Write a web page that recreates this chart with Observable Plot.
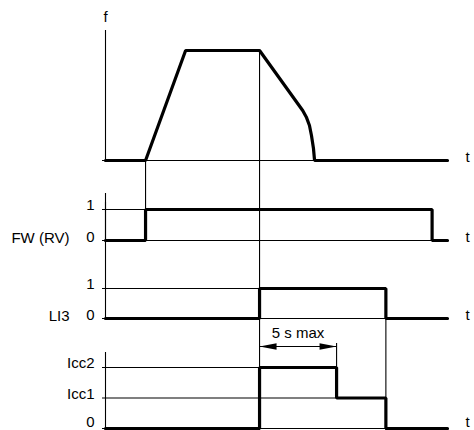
<!DOCTYPE html>
<html><head><meta charset="utf-8">
<script src="https://cdn.jsdelivr.net/npm/d3@7"></script>
<script src="https://cdn.jsdelivr.net/npm/@observablehq/plot@0.6"></script>
<style>body{margin:0;background:#fff}</style>
</head><body><div id="chart"></div>
<script>
// ---- data (time in s, signal values) ----
const tEnd = 22.2;
const fTime  = [0, 2.6, 5.2, 10, 12.8, 13.05, 13.24, 13.37, 13.5, 13.57, 22.2];
const fValue = [0, 0,   1,   1,  0.455, 0.39, 0.318, 0.227, 0.109, 0, 0];
const fwTime  = [0, 2.6, 21.2, 22.2];
const fwValue = [0, 1, 0, 0];
const li3Time  = [0, 10, 18.2, 22.2];
const li3Value = [0, 1, 0, 0];
const iccTime  = [0, 10, 15, 18.2, 22.2];
const iccValue = [0, 2, 1, 0, 0];
const binaryLevels = [0, 1];
const binaryLabels = ["0", "1"];
const iccLevels = [0, 1, 2];
const iccLabels = ["0", "Icc1", "Icc2"];
const signalNames = ["FW (RV)", "LI3"];
const axisNames = ["f", "t"];
const maxStart = 10, maxEnd = 15, maxLabel = "5 s max";

// ---- layout (pixels) ----
const L = {
  f:   {base: 160, unit: 110, top: 30, dy: -3},
  fw:  {base: 240, unit: 31,  top: 193, dy: -3},
  li3: {base: 318, unit: 30,  top: 202, dy: -3},
  icc: {base: 428, unit: 30.5, top: 352, dy: -6},
  arrowY: 346
};
const Y = (p, v) => L[p].base - v * L[p].unit;
const font = "Liberation Sans, Arial, sans-serif";
const fs = 15;

const panels = [
  {key: "f", time: fTime, value: fValue, curve: "linear", levels: [], labels: []},
  {key: "fw", time: fwTime, value: fwValue, curve: "step-after", levels: [1], labels: binaryLabels, lv: binaryLevels, name: signalNames[0]},
  {key: "li3", time: li3Time, value: li3Value, curve: "step-after", levels: [1], labels: binaryLabels, lv: binaryLevels, name: signalNames[1]},
  {key: "icc", time: iccTime, value: iccValue, curve: "step-after", levels: [2, 1], labels: iccLabels, lv: iccLevels}
];

const arrowHead = {draw(ctx) { ctx.moveTo(0, 0); ctx.lineTo(-17, -3.2); ctx.lineTo(-17, 3.2); ctx.closePath(); }};

const marks = [];
for (const p of panels) {
  const k = p.key;
  marks.push(Plot.ruleX([0], {y1: L[k].top, y2: L[k].base + 2, stroke: "black", strokeWidth: 1.1}));
  marks.push(Plot.ruleY([L[k].base], {x1: 0, x2: tEnd, insetLeft: -3, insetRight: -1, stroke: "black", strokeWidth: 1.1}));
  for (const lv of p.levels) {
    const i = p.value.indexOf(lv);
    marks.push(Plot.ruleY([Y(k, lv)], {x1: 0, x2: p.time[i], insetLeft: -3, stroke: "black", strokeWidth: 1.1}));
  }
  const idx = d3.range(p.time.length);
  marks.push(Plot.line(idx, {x: i => p.time[i], y: i => Y(k, p.value[i]), curve: p.curve, stroke: "black", strokeWidth: 3.2, strokeLinejoin: "miter"}));
  if (p.lv) {
    const zeroIdx = p.lv.map((v, i) => i).filter(i => p.lv[i] === 0);
    const upIdx = p.lv.map((v, i) => i).filter(i => p.lv[i] !== 0);
    marks.push(Plot.text(zeroIdx, {x: 0, y: i => Y(k, p.lv[i]), text: i => p.labels[i], textAnchor: "end", dx: -11, dy: L[k].dy, fontSize: fs, fontFamily: font, fill: "black"}));
    marks.push(Plot.text(upIdx, {x: 0, y: i => Y(k, p.lv[i]), text: i => p.labels[i], textAnchor: "end", dx: -11, dy: -4, fontSize: fs, fontFamily: font, fill: "black"}));
  }
  if (p.name) {
    marks.push(Plot.text([p.name], {x: 0, y: L[k].base, text: d => d, textAnchor: "end", dx: -36, dy: -2, fontSize: fs, fontFamily: font, fill: "black"}));
  }
  marks.push(Plot.text([axisNames[1]], {x: tEnd, y: L[k].base, text: d => d, textAnchor: "middle", dx: 20, dy: L[k].dy, fontSize: fs, fontFamily: font, fill: "black"}));
}
marks.push(Plot.text([axisNames[0]], {x: 0, y: L.f.top, text: d => d, textAnchor: "middle", dy: -13, fontSize: fs, fontFamily: font, fill: "black"}));

const fwOn = fwTime[fwValue.indexOf(1)];
const li3On = li3Time[li3Value.indexOf(1)];
const li3Off = li3Time[li3Value.lastIndexOf(1) + 1];
marks.push(Plot.ruleX([fwOn], {y1: Y("f", 0), y2: Y("fw", 1), stroke: "black", strokeWidth: 1.1}));
marks.push(Plot.ruleX([li3On], {y1: Y("f", 1), y2: L.icc.base + 2, stroke: "black", strokeWidth: 1.1}));
marks.push(Plot.ruleX([li3Off], {y1: Y("li3", 1), y2: L.icc.base + 2, stroke: "black", strokeWidth: 1.1}));
marks.push(Plot.ruleX([maxEnd], {y1: L.arrowY - 3, y2: Y("icc", 2), stroke: "black", strokeWidth: 1.1}));

marks.push(Plot.ruleY([L.arrowY], {x1: maxStart, x2: maxEnd, stroke: "black", strokeWidth: 1.1}));
marks.push(Plot.dot([maxStart, maxEnd], {x: d => d, y: L.arrowY, symbol: arrowHead, rotate: (d, i) => i === 0 ? 180 : 0, fill: "black", stroke: "none"}));
marks.push(Plot.text([maxLabel], {x: (maxStart + maxEnd) / 2, y: L.arrowY, text: d => d, dy: -13, fontSize: fs, fontFamily: font, fill: "black"}));

const chart = Plot.plot({
  width: 474, height: 430,
  margin: 0,
  x: {domain: [0, tEnd], range: [105, 447]},
  y: {domain: [0, 430], range: [0, 430]},
  axis: null,
  style: {background: "white", fontFamily: font, overflow: "visible"},
  marks
});
document.getElementById("chart").appendChild(chart);
</script></body></html>
